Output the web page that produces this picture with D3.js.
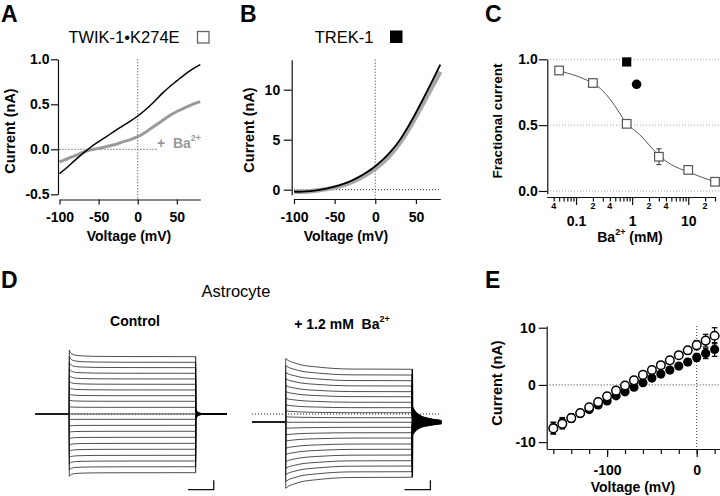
<!DOCTYPE html>
<html><head><meta charset="utf-8">
<script src="https://cdn.jsdelivr.net/npm/d3@7"></script>
<style>
html,body{margin:0;padding:0;background:#fff;}
svg{display:block;}
</style></head><body>
<svg id="fig" width="720" height="496"></svg>
<script>
// ---------------- DATA ----------------
// Panel A / B : I-V curves
const ivVolt = [-100,-90,-80,-70,-60,-50,-40,-30,-20,-10,0,10,20,30,40,50,60,70,80];
const twikCtrl = [-0.27,-0.2,-0.12,-0.045,0.025,0.085,0.14,0.2,0.255,0.31,0.37,0.44,0.52,0.61,0.69,0.76,0.83,0.89,0.94];
const twikBa   = [-0.14,-0.105,-0.07,-0.035,-0.005,0.01,0.03,0.05,0.08,0.105,0.14,0.19,0.25,0.31,0.37,0.42,0.46,0.5,0.53];
const trekCtrl = [-0.2,-0.2,-0.15,-0.05,0.1,0.3,0.55,0.87,1.28,1.77,2.35,3.05,3.9,4.95,6.25,7.7,9.25,10.85,12.5];
const trekBa   = [-0.2,-0.2,-0.15,-0.06,0.06,0.22,0.43,0.72,1.1,1.56,2.1,2.78,3.62,4.65,5.9,7.3,8.8,10.3,11.8];
const ivTicksX = [-100,-50,0,50];
const twikTicksY = [-0.5,0,0.5,1.0];
const trekTicksY = [0,5,10];

// Panel C : dose-response
const baConc = [0.05,0.2,0.8,3,10,30];
const twikFrac = [0.915,0.82,0.51,0.26,0.16,0.07];
const twikFracErr = [0,0,0,0.06,0,0];
const trekConc = [0.8];
const trekFrac = [0.98];
const astroConc = [1.2];
const astroFrac = [0.81];
const fitConc = [0.05,0.07,0.1,0.15,0.2,0.3,0.4,0.6,0.8,1.0,1.5,2,3,5,7,10,15,20,30];
const fitFrac = [0.915,0.895,0.875,0.845,0.82,0.76,0.7,0.59,0.51,0.475,0.41,0.35,0.27,0.2,0.17,0.145,0.115,0.095,0.07];
const fracTicksY = [0,0.5,1.0];
const concMajor = [0.1,1,10];
const concMinor = [0.04,0.05,0.06,0.07,0.08,0.09,0.2,0.3,0.4,0.5,0.6,0.7,0.8,0.9,2,3,4,5,6,7,8,9,20,30];
const concMinorLabelAt = [0.04,0.2,0.4,2,4,20];
const concMinorLabelText = ["4","2","4","2","4","2"];

// Panel D : current traces (nA) for each voltage step
const ctrlHold = 0;
const ctrlSteady = [6.37,5.74,5.15,4.52,3.89,3.3,2.67,2.03,1.41,0.74,0,-0.59,-1.26,-1.92,-2.59,-3.26,-3.92,-4.59,-5.22,-5.86,-6.52];
const ctrlPeak   = [7.1,6.4,5.72,5.02,4.32,3.66,2.96,2.25,1.56,0.82,0,-0.63,-1.34,-2.04,-2.75,-3.46,-4.16,-4.87,-5.54,-6.22,-6.92];
const ctrlTail   = [0.55,0.5,0.44,0.38,0.33,0.27,0.22,0.16,0.11,0.05,0,-0.05,-0.11,-0.16,-0.22,-0.27,-0.33,-0.38,-0.44,-0.5,-0.55];
const baHold = -0.92;
const baSteady = [4.97,4.33,3.7,3.11,2.48,1.92,1.3,0.7,0.14,-0.41,-0.92,-1.48,-2.08,-2.67,-3.33,-3.92,-4.56,-5.19,-5.78,-6.41,-7.03];
const baPeak   = [6.15,5.38,4.62,3.92,3.16,2.49,1.74,1.02,0.35,-0.31,-0.92,-1.59,-2.31,-3.02,-3.81,-4.52,-5.29,-6.04,-6.75,-7.51,-8.25];
const baTail   = [0.81,0.65,0.5,0.34,0.18,0.03,-0.13,-0.29,-0.45,-0.6,-0.76,-0.92,-1.07,-1.23,-1.39,-1.54,-1.7,-1.86,-2.01,-2.17,-2.33];
const ctrlDecayT = [0,5,12,25,50,100,200,490];
const ctrlDecayF = [1,0.6,0.38,0.22,0.12,0.05,0.02,0];
const baDecayT = [0,10,29,55,120,185,250,490];
const baDecayF = [1,0.82,0.64,0.44,0.22,0.08,0.02,0];
const ctrlTailT = [490,496,505,520,610];
const ctrlTailF = [1,0.45,0.18,0.06,0];
const baTailT = [490,500,520,550,580,602];
const baTailF = [1,0.7,0.42,0.25,0.15,0.1];

// Panel E : astrocyte I-V
const eVolt = [-160,-150,-140,-130,-120,-110,-100,-90,-80,-70,-60,-50,-40,-30,-20,-10,0,10,20];
const astroCtrl    = [-7.6,-6.8,-5.8,-4.9,-3.9,-3.0,-2.0,-1.0,-0.1,0.8,1.75,2.6,3.45,4.3,5.2,6.05,6.95,7.75,8.6];
const astroCtrlSem = [1.0,0.9,0.7,0.6,0.5,0.4,0.3,0.3,0.3,0.3,0.3,0.3,0.4,0.4,0.5,0.6,0.8,1.1,1.4];
const astroBa      = [-7.5,-6.6,-5.8,-5.0,-4.3,-3.5,-2.8,-1.9,-1.2,-0.4,0.4,1.2,1.9,2.6,3.3,4.0,4.8,5.5,6.2];
const astroBaSem   = [1.0,0.9,0.7,0.6,0.5,0.4,0.3,0.3,0.3,0.3,0.3,0.3,0.3,0.4,0.4,0.5,0.7,0.9,1.2];
const eTicksX = [-160,-140,-120,-100,-80,-60,-40,-20,0,20];
const eMajorX = [-100,0];
const eTicksY = [-10,0,10];

// ---------------- DRAWING ----------------
const FONT = '"Liberation Sans", Arial, Helvetica, sans-serif';
const svg = d3.select('#fig').attr('font-family', FONT);

function styleAxis(g, fs) {
  fs = fs || 14;
  g.attr('font-family', FONT);
  g.select('.domain').attr('stroke', '#111').attr('stroke-width', 1.2);
  g.selectAll('.tick line').attr('stroke', '#111').attr('stroke-width', 1.2);
  g.selectAll('.tick text').attr('fill', '#000').attr('font-size', fs).attr('font-weight', 'bold');
}
function label(x, y, s, o) {
  o = o || {};
  const t = svg.append('text').attr('x', x).attr('y', y).text(s)
    .attr('font-size', o.size || 14).attr('font-weight', o.weight || 'bold')
    .attr('fill', o.fill || '#000').attr('text-anchor', o.anchor || 'start');
  if (o.rotate) t.attr('transform', `rotate(-90,${x},${y})`);
  return t;
}
function dotted(x1, y1, x2, y2, col) {
  svg.append('line').attr('x1', x1).attr('y1', y1).attr('x2', x2).attr('y2', y2)
    .attr('stroke', col || '#333').attr('stroke-width', 1).attr('stroke-dasharray', '1,2');
}

// Panel letters
label(1, 22, 'A', {size: 23});
label(240, 22, 'B', {size: 23});
label(485, 22, 'C', {size: 23});
label(1, 288, 'D', {size: 23});
label(485, 288, 'E', {size: 23});

// ---------- Panel A ----------
const xA = d3.scaleLinear().domain([-100, 80]).range([59.5, 200.3]);
const yA = d3.scaleLinear().domain([-0.5, 1.0]).range([194.3, 59.3]);
dotted(xA(0), 59.3, xA(0), 199.5);
dotted(xA(-100), yA(0), xA(25), yA(0));
svg.append('g').attr('transform', 'translate(0,199.5)')
  .call(d3.axisBottom(xA).tickValues(ivTicksX).tickSize(5).tickSizeOuter(0).tickPadding(8).tickFormat(d => String(d)))
  .call(g => styleAxis(g));
svg.append('g').attr('transform', 'translate(58,0)')
  .call(d3.axisLeft(yA).tickValues(twikTicksY).tickSize(7).tickSizeOuter(0).tickPadding(1.5).tickFormat(d => d.toFixed(1)))
  .call(g => styleAxis(g));
const lineA = d3.line().x((d, i) => xA(ivVolt[i])).y(d => yA(d)).curve(d3.curveMonotoneX);
svg.append('path').attr('d', lineA(twikBa)).attr('fill', 'none').attr('stroke', '#9a9a9a').attr('stroke-width', 3);
svg.append('path').attr('d', lineA(twikCtrl)).attr('fill', 'none').attr('stroke', '#000').attr('stroke-width', 1.5);
const baLab = label(157, 148, '+  Ba', {fill: '#9a9a9a'});
baLab.attr('style', 'white-space:pre');
baLab.append('tspan').attr('dy', -7).attr('font-size', 9).text('2+');
label(129, 241, 'Voltage (mV)', {anchor: 'middle'});
label(15, 131, 'Current (nA)', {anchor: 'middle', rotate: true, size: 14.5});
label(124, 43, 'TWIK-1\u2022K274E', {anchor: 'middle', weight: 'normal', size: 16.5});
svg.append('rect').attr('x', 197.5).attr('y', 31.5).attr('width', 11.5).attr('height', 11.5)
  .attr('fill', '#fff').attr('stroke', '#666').attr('stroke-width', 1.3);

// ---------- Panel B ----------
const xB = d3.scaleLinear().domain([-100, 80]).range([294, 440.3]);
const yB = d3.scaleLinear().domain([-0.5, 13]).range([194.7, 59.7]);
dotted(xB(0), 59.7, xB(0), 199);
dotted(xB(-100), yB(0), xB(80), yB(0));
svg.append('g').attr('transform', 'translate(0,199)')
  .call(d3.axisBottom(xB).tickValues(ivTicksX).tickSize(5).tickSizeOuter(0).tickPadding(8).tickFormat(d => String(d)))
  .call(g => styleAxis(g));
svg.append('g').attr('transform', 'translate(291.7,0)')
  .call(d3.axisLeft(yB).tickValues(trekTicksY).tickSize(8).tickSizeOuter(0).tickPadding(3.5).tickFormat(d => String(d)))
  .call(g => styleAxis(g));
const lineB = d3.line().x((d, i) => xB(ivVolt[i])).y(d => yB(d)).curve(d3.curveCatmullRom.alpha(0.5));
svg.append('path').attr('d', lineB(trekBa)).attr('fill', 'none').attr('stroke', '#a8a8a8').attr('stroke-width', 4.5);
svg.append('path').attr('d', lineB(trekCtrl)).attr('fill', 'none').attr('stroke', '#000').attr('stroke-width', 1.8);
label(346, 241, 'Voltage (mV)', {anchor: 'middle'});
label(254, 130, 'Current (nA)', {anchor: 'middle', rotate: true, size: 14.5});
label(344, 43, 'TREK-1', {anchor: 'middle', weight: 'normal', size: 16.5});
svg.append('rect').attr('x', 390).attr('y', 30.5).attr('width', 12.5).attr('height', 12.5).attr('fill', '#000');

// ---------- Panel C ----------
const xC = d3.scaleLog().domain([0.03, 30]).range([546.7, 715]);
const yC = d3.scaleLinear().domain([-0.02, 1.0]).range([193.6, 59.3]);
fracTicksY.forEach(v => dotted(547, yC(v), 720, yC(v), '#aaa'));
svg.append('g').attr('transform', 'translate(0,197)')
  .call(d3.axisBottom(xC).tickValues(concMinor).tickSize(4.5).tickSizeOuter(0).tickFormat(''))
  .call(g => styleAxis(g));
const cMaj = svg.append('g').attr('transform', 'translate(0,197)')
  .call(d3.axisBottom(xC).tickValues(concMajor).tickSize(8).tickSizeOuter(0).tickPadding(11).tickFormat(d => String(d)))
  .call(g => styleAxis(g));
cMaj.select('.domain').remove();
concMinorLabelAt.forEach((c, i) => label(xC(c), 209, concMinorLabelText[i], {anchor: 'middle', size: 9}));
svg.append('g').attr('transform', 'translate(547.3,0)')
  .call(d3.axisLeft(yC).tickValues(fracTicksY).tickSize(8.5).tickSizeOuter(0).tickPadding(1).tickFormat(d => d.toFixed(1)))
  .call(g => styleAxis(g));
const lineC = d3.line().x((d, i) => xC(fitConc[i])).y(d => yC(d)).curve(d3.curveMonotoneX);
svg.append('path').attr('d', lineC(fitFrac)).attr('fill', 'none').attr('stroke', '#555').attr('stroke-width', 1);
baConc.forEach((c, i) => {
  if (twikFracErr[i] > 0) {
    const x = xC(c), y1 = yC(twikFrac[i] - twikFracErr[i]), y2 = yC(twikFrac[i] + twikFracErr[i]);
    svg.append('line').attr('x1', x).attr('x2', x).attr('y1', y1).attr('y2', y2).attr('stroke', '#333').attr('stroke-width', 1);
    [y1, y2].forEach(y => svg.append('line').attr('x1', x - 2.5).attr('x2', x + 2.5).attr('y1', y).attr('y2', y).attr('stroke', '#333').attr('stroke-width', 1));
  }
});
const sq = 8.6;
baConc.forEach((c, i) => {
  svg.append('rect').attr('x', xC(c) - sq / 2).attr('y', yC(twikFrac[i]) - sq / 2).attr('width', sq).attr('height', sq)
    .attr('fill', '#fff').attr('stroke', '#555').attr('stroke-width', 1.2);
});
trekConc.forEach((c, i) => {
  svg.append('rect').attr('x', xC(c) - 4.6).attr('y', yC(trekFrac[i]) - 4.6).attr('width', 9.2).attr('height', 9.2).attr('fill', '#000');
});
astroConc.forEach((c, i) => {
  svg.append('circle').attr('cx', xC(c)).attr('cy', yC(astroFrac[i])).attr('r', 4.8).attr('fill', '#000');
});
const cx = label(630, 242, 'Ba', {anchor: 'middle', size: 14});
cx.append('tspan').attr('dy', -7).attr('font-size', 9).text('2+');
cx.append('tspan').attr('dy', 7).text(' (mM)');
label(502, 121, 'Fractional current', {anchor: 'middle', rotate: true, size: 13.5});

// ---------- Panel D ----------
label(236, 297, 'Astrocyte', {anchor: 'middle', weight: 'normal', size: 16.5});
label(135, 326, 'Control', {anchor: 'middle', size: 14});
const dLab = label(342, 329, '+ 1.2 mM  Ba', {anchor: 'middle', size: 14});
dLab.attr('style', 'white-space:pre');
dLab.append('tspan').attr('dy', -7).attr('font-size', 9).text('2+');

const yD = d3.scaleLinear().domain([0, 1]).range([414, 405]);
const tCtrl = d3.scaleLinear().domain([0, 490]).range([69.3, 195.7]);
const tBa = d3.scaleLinear().domain([0, 490]).range([285.7, 412.3]);

function stepPath(tS, hold, peak, steady, dT, dF, tStart) {
  const lin = d3.line().x(d => tS(d[0])).y(d => yD(d[1]));
  const mono = d3.line().x(d => tS(d[0])).y(d => yD(d[1])).curve(d3.curveMonotoneX);
  const pre = [[tStart, hold], [0, hold]];
  const step = dT.map((t, i) => [t, steady + (peak - steady) * dF[i]]);
  return lin(pre) + mono(step).replace(/^M/, 'L');
}
function tailPath(tS, hold, steady, tail, tT, tF) {
  const mono = d3.line().x(d => tS(d[0])).y(d => yD(d[1])).curve(d3.curveMonotoneX);
  const post = tT.map((t, i) => [t, hold + (tail - hold) * tF[i]]);
  return `M${tS(tT[0])},${yD(steady)}` + mono(post).replace(/^M/, 'L');
}
dotted(tCtrl(-130), yD(0), tCtrl(610), yD(0), '#000');
dotted(tBa(-130), yD(0), tBa(602), yD(0), '#000');
const gTr = svg.append('g').attr('fill', 'none').attr('stroke', '#222').attr('stroke-width', 0.8);
const gTail = svg.append('g').attr('fill', 'none').attr('stroke', '#000').attr('stroke-width', 1.5);
ctrlSteady.forEach((s, i) => {
  gTr.append('path').attr('d', stepPath(tCtrl, ctrlHold, ctrlPeak[i], s, ctrlDecayT, ctrlDecayF, -130));
  gTail.append('path').attr('d', tailPath(tCtrl, ctrlHold, s, ctrlTail[i], ctrlTailT, ctrlTailF)).attr('stroke-width', 0.9);
});
baSteady.forEach((s, i) => {
  gTr.append('path').attr('d', stepPath(tBa, baHold, baPeak[i], s, baDecayT, baDecayF, -130));
  gTail.append('path').attr('d', tailPath(tBa, baHold, s, baTail[i], baTailT, baTailF));
});
// scale bars (100 ms, 1 nA)
function scaleBar(tS) {
  const p = `M${tS(460)},${yD(-8.4)}L${tS(560)},${yD(-8.4)}L${tS(560)},${yD(-7.35)}`;
  svg.append('path').attr('d', p).attr('fill', 'none').attr('stroke', '#111').attr('stroke-width', 1.3);
}
scaleBar(tCtrl);
scaleBar(tBa);

// ---------- Panel E ----------
const xE = d3.scaleLinear().domain([-167.4, 26]).range([546.7, 720]);
const yE = d3.scaleLinear().domain([-11.2, 10.3]).range([449, 326]);
dotted(xE(0), 326, xE(0), 449);
dotted(546.7, yE(0), 720, yE(0));
svg.append('g').attr('transform', 'translate(0,449)')
  .call(d3.axisBottom(xE).tickValues(eTicksX).tickSize(5).tickSizeOuter(0).tickFormat(''))
  .call(g => styleAxis(g));
const eMaj = svg.append('g').attr('transform', 'translate(0,449)')
  .call(d3.axisBottom(xE).tickValues(eMajorX).tickSize(8).tickSizeOuter(0).tickPadding(8).tickFormat(d => String(d)))
  .call(g => styleAxis(g));
eMaj.select('.domain').remove();
svg.append('g').attr('transform', 'translate(546.7,0)')
  .call(d3.axisLeft(yE).tickValues(eTicksY).tickSize(8).tickSizeOuter(0).tickPadding(3).tickFormat(d => String(d)))
  .call(g => styleAxis(g));
function errBars(vals, sem) {
  vals.forEach((v, i) => {
    const x = xE(eVolt[i]), y1 = yE(v - sem[i]), y2 = yE(v + sem[i]);
    svg.append('line').attr('x1', x).attr('x2', x).attr('y1', y1).attr('y2', y2).attr('stroke', '#000').attr('stroke-width', 1.2);
    [y1, y2].forEach(y => svg.append('line').attr('x1', x - 2.8).attr('x2', x + 2.8).attr('y1', y).attr('y2', y).attr('stroke', '#000').attr('stroke-width', 1.2));
  });
}
errBars(astroBa, astroBaSem);
astroBa.forEach((v, i) => svg.append('circle').attr('cx', xE(eVolt[i])).attr('cy', yE(v)).attr('r', 4.6).attr('fill', '#000'));
errBars(astroCtrl, astroCtrlSem);
astroCtrl.forEach((v, i) => svg.append('circle').attr('cx', xE(eVolt[i])).attr('cy', yE(v)).attr('r', 4.3)
  .attr('fill', '#fff').attr('stroke', '#000').attr('stroke-width', 1.5));
label(633, 492, 'Voltage (mV)', {anchor: 'middle'});
label(502, 383, 'Current (nA)', {anchor: 'middle', rotate: true, size: 14.5});
</script>
</body></html>
